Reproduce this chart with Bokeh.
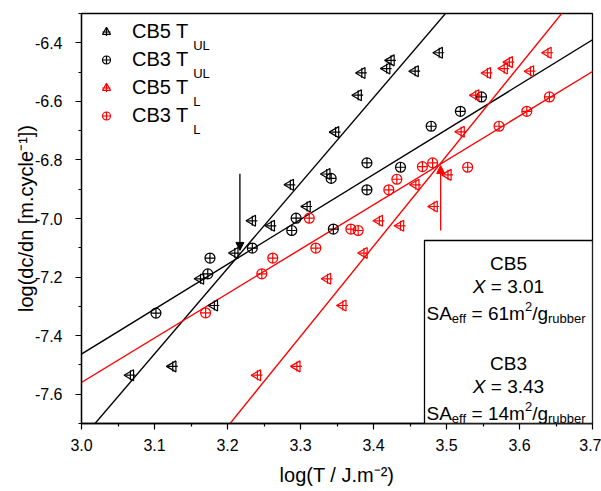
import numpy as np
from bokeh.plotting import figure
from bokeh.models import (Legend, LegendItem, Label, BoxAnnotation, Arrow, NormalHead,
                          FixedTicker, NumeralTickFormatter, Range1d)
from bokeh.embed import file_html
from bokeh.resources import INLINE

# ---------------- data ----------------
cb5_tul_x = [3.067, 3.125, 3.163, 3.182, 3.210, 3.234, 3.260, 3.286, 3.309, 3.336,
             3.348, 3.379, 3.384, 3.418, 3.424, 3.457, 3.490]
cb5_tul_y = [-7.535, -7.505, -7.206, -7.297, -7.118, -7.008, -7.025, -6.885, -6.959, -6.848,
             -6.705, -6.579, -6.503, -6.488, -6.460, -6.497, -6.434]

cb3_tul_x = [3.102, 3.173, 3.176, 3.234, 3.288, 3.294, 3.345, 3.342, 3.391, 3.391,
             3.437, 3.479, 3.519, 3.548]
cb3_tul_y = [-7.323, -7.189, -7.135, -7.101, -7.041, -6.999, -7.036, -6.863, -6.902, -6.810,
             -6.825, -6.685, -6.634, -6.585]

cb5_tl_x = [3.241, 3.295, 3.337, 3.358, 3.387, 3.408, 3.437, 3.458, 3.483, 3.502,
            3.520, 3.540, 3.556, 3.579, 3.586, 3.615, 3.639]
cb5_tl_y = [-7.535, -7.505, -7.206, -7.297, -7.118, -7.008, -7.025, -6.885, -6.959, -6.851,
            -6.704, -6.579, -6.503, -6.488, -6.466, -6.497, -6.434]

cb3_tl_x = [3.170, 3.247, 3.262, 3.312, 3.321, 3.369, 3.379, 3.421, 3.432, 3.467,
            3.481, 3.529, 3.572, 3.610, 3.641]
cb3_tl_y = [-7.322, -7.189, -7.135, -6.999, -7.101, -7.036, -7.041, -6.902, -6.866, -6.823,
            -6.810, -6.825, -6.685, -6.634, -6.585]

# fitted lines (slope, intercept)
fit_slope = [2.916, 1.533, 3.081, 1.517]        # CB5 TUL, CB3 TUL, CB5 TL, CB3 TL
fit_intercept = [-16.502, -12.062, -17.570, -12.111]
fit_span = [2.95, 3.75]

# arrows
arrow_x = [3.217, 3.492]
arrow_y_start = [-6.847, -7.041]
arrow_y_end = [-7.109, -6.819]

x_ticks = [3.0, 3.1, 3.2, 3.3, 3.4, 3.5, 3.6, 3.7]
x_minor = [3.05, 3.15, 3.25, 3.35, 3.45, 3.55, 3.65]
y_ticks = [-7.6, -7.4, -7.2, -7.0, -6.8, -6.6, -6.4]
y_minor = [-7.7, -7.5, -7.3, -7.1, -6.9, -6.7, -6.5, -6.3]

legend_main = ["CB5 T", "CB3 T", "CB5 T", "CB3 T"]
legend_sub = ["UL", "UL", "L", "L"]
box_names = ["CB5", "CB3"]
box_X = ["3.01", "3.43"]
box_SA = ["61", "14"]

BLACK = "#000000"
RED = "#ff0000"
FONT = "Liberation Sans"

# ---------------- layout (Bokeh page has no body margin) ----------------
W, H = 601, 491
BL, BR, BT, BB = 81, 9, 13, 68
X0, X1 = 3.0, 3.7
Y0, Y1 = -7.7, -6.3
FL, FT = BL, BT
FW, FH = W - BL - BR, H - BT - BB

LEG_FS = 20
LEG_X = 15          # legend box offset from frame left (px)
LEG_Y = 295         # legend box offset from frame bottom (px)
LEG_STANDOFF = 16


def px2x(px):
    return X0 + (px - FL) / FW * (X1 - X0)


def py2y(py):
    return Y1 - (py - FT) / FH * (Y1 - Y0)


ARIAL = {' ': 278, 'S': 667, 'A': 667, 'e': 556, 'f': 278, '=': 584, 'm': 833, '/': 278,
         'g': 556, 'r': 333, 'u': 556, 'b': 556, 'X': 667, '.': 278, 'C': 722, 'B': 667,
         'T': 611}


def tw(s, size):
    return sum(ARIAL.get(c, 556) for c in s) / 1000 * size


p = figure(width=W, height=H, x_range=Range1d(X0, X1), y_range=Range1d(Y0, Y1),
           output_backend="svg", toolbar_location=None,
           min_border_left=BL, min_border_right=BR, min_border_top=BT, min_border_bottom=BB)
p.xgrid.visible = False
p.ygrid.visible = False
p.outline_line_color = "black"
p.outline_line_width = 1.3
p.outline_line_alpha = 1.0
p.background_fill_color = "white"
p.border_fill_color = "white"

for ax in (p.xaxis[0], p.yaxis[0]):
    ax.axis_line_color = "black"
    ax.axis_line_width = 1.3
    ax.major_tick_line_color = "black"
    ax.minor_tick_line_color = "black"
    ax.major_tick_line_width = 1.2
    ax.minor_tick_line_width = 1.2
    ax.major_tick_out = 6
    ax.major_tick_in = 0
    ax.minor_tick_out = 3
    ax.minor_tick_in = 0
    ax.major_label_text_font = FONT
    ax.major_label_text_font_size = "16px"
    ax.major_label_text_color = "black"
    ax.axis_label_text_font = FONT
    ax.axis_label_text_font_size = "20px"
    ax.axis_label_text_font_style = "normal"
    ax.axis_label_text_color = "black"
    ax.formatter = NumeralTickFormatter(format="0.0")

p.xaxis.ticker = FixedTicker(ticks=x_ticks, minor_ticks=x_minor)
p.yaxis.ticker = FixedTicker(ticks=y_ticks, minor_ticks=y_minor)
p.xaxis.axis_label = "log(T / J.m⁻²)"
p.yaxis.axis_label = "log(dc/dn [m.cycle⁻¹])"
p.xaxis.major_label_standoff = 9
p.xaxis.axis_label_standoff = 10
p.yaxis.major_label_standoff = 13
p.yaxis.axis_label_standoff = -5

# fit lines
span = np.array(fit_span)
fit_colors = [BLACK, BLACK, RED, RED]
for s, b, c in zip(fit_slope, fit_intercept, fit_colors):
    p.line(span, s * span + b, line_color=c, line_width=1.4)

# markers
def tri_series(xs, ys, color):
    r1 = p.scatter(xs, ys, marker="triangle", angle=np.pi / 2, size=11,
                   fill_color=None, line_color=color, line_width=1.2)
    r2 = p.scatter(xs, ys, marker="cross", size=10, line_color=color, line_width=1.2)
    return [r1, r2]


def circ_series(xs, ys, color):
    r = p.scatter(xs, ys, marker="circle_cross", size=10, fill_color=None,
                  line_color=color, line_width=1.2)
    return [r]


rs = [tri_series(cb5_tul_x, cb5_tul_y, BLACK),
      circ_series(cb3_tul_x, cb3_tul_y, BLACK),
      tri_series(cb5_tl_x, cb5_tl_y, RED),
      circ_series(cb3_tl_x, cb3_tl_y, RED)]

legend = Legend(items=[LegendItem(label=lab, renderers=r) for lab, r in zip(legend_main, rs)],
                location=(LEG_X, LEG_Y), padding=5, spacing=3, glyph_width=20, glyph_height=25,
                label_height=25, label_standoff=LEG_STANDOFF, label_text_font=FONT,
                label_text_font_size=f"{LEG_FS}px", label_text_color="black",
                border_line_color=None, background_fill_alpha=0, margin=0)
p.add_layout(legend)

text_start = FL + LEG_X + 5 + 20 + LEG_STANDOFF
for i, sub in enumerate(legend_sub):
    p.add_layout(Label(x=px2x(text_start + tw("CB5 T", LEG_FS) - 1), y=py2y(45 + 28 * i),
                       text=sub, text_font=FONT, text_font_size="13px",
                       text_baseline="alphabetic", text_align="left", text_color="black"))

# arrows
for xa, ys_, ye_, c in zip(arrow_x, arrow_y_start, arrow_y_end, [BLACK, RED]):
    p.add_layout(Arrow(end=NormalHead(size=8, fill_color=c, line_color=c),
                       x_start=xa, y_start=ys_, x_end=xa, y_end=ye_,
                       line_color=c, line_width=1.3))

# text box
p.add_layout(BoxAnnotation(left=px2x(424), right=X1, bottom=Y0, top=py2y(240),
                           fill_color="white", fill_alpha=1.0, line_color="black",
                           line_width=1.3, line_alpha=1.0))

for k in range(2):
    dy = 100 * k
    cx = 508
    # name, underlined
    p.add_layout(Label(x=px2x(cx), y=py2y(262.5 + dy), text=box_names[k], text_font=FONT,
                       text_font_size="19px", text_align="center",
                       text_baseline="alphabetic", text_color="black"))
    half = tw(box_names[k], 19) / 2
    p.line([px2x(cx - half), px2x(cx + half)], [py2y(265.5 + dy)] * 2,
           line_color="black", line_width=1.2)
    # X = ...
    rest = "= " + box_X[k]
    total = tw("X ", 19) + tw(rest, 19)
    x0 = cx - total / 2
    p.add_layout(Label(x=px2x(x0), y=py2y(285.5 + dy), text="X", text_font=FONT,
                       text_font_size="19px", text_font_style="italic",
                       text_baseline="alphabetic", text_color="black"))
    p.add_layout(Label(x=px2x(x0 + tw("X ", 19)), y=py2y(285.5 + dy), text=rest,
                       text_font=FONT, text_font_size="19px",
                       text_baseline="alphabetic", text_color="black"))
    # SA_eff = ..m2/g_rubber
    base = 313 + dy
    parts = [("SA", 19, 0), ("eff", 13, 4.5), ("= " + box_SA[k] + "m", 19, 0),
             ("2", 13, -7.5), ("/g", 19, 0), ("rubber", 13, 4.5)]
    xc = 426
    for j, (txt, fs, off) in enumerate(parts):
        if j == 2:
            xc += tw(" ", 19)
        p.add_layout(Label(x=px2x(xc), y=py2y(base + off), text=txt, text_font=FONT,
                           text_font_size=f"{fs}px", text_baseline="alphabetic",
                           text_color="black"))
        xc += tw(txt, fs)

open("out.html", "w").write(file_html(p, INLINE))
